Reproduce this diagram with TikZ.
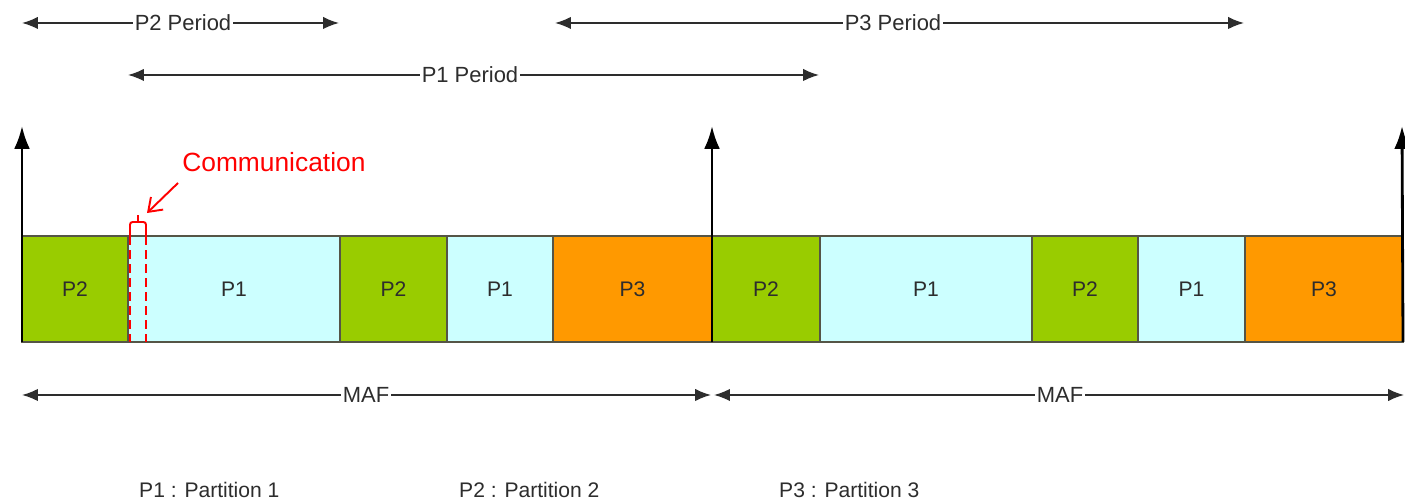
\documentclass[tikz,border=0pt]{standalone}
\usepackage{fontspec}
\setmainfont{Liberation Sans}
\usetikzlibrary{arrows.meta}
\definecolor{slotgreen}{RGB}{153,204,0}
\definecolor{slotcyan}{RGB}{204,255,255}
\definecolor{slotorange}{RGB}{255,153,0}
\definecolor{slotedge}{RGB}{85,85,70}
\definecolor{ink}{RGB}{45,45,45}
% one time slot of the schedule: name, left x, right x, fill, label
\newcommand\timeslot[5]{%
  \pgfmathsetlengthmacro\slotw{(#3-#2)*0.02cm}%
  \node[slotbox, fill=#4, minimum width=\slotw] (#1) at ({(#2+#3)/2},289) {#5};}
\begin{document}
\begin{tikzpicture}[x=0.02cm, y=-0.02cm,
  slotbox/.style={draw=slotedge, line width=0.7pt, minimum height=2.12cm,
    inner sep=0pt, outer sep=0pt, text=ink, font=\fontsize{12}{14}\selectfont},
  span/.style={draw=ink, line width=0.9pt,
    {Latex[length=9pt,width=7pt]}-{Latex[length=9pt,width=7pt]}},
  spanlabel/.style={fill=white, inner sep=1pt, text=ink,
    font=\fontsize{12.5}{15}\selectfont},
  axis/.style={draw=black, line width=1.6pt, -{Latex[length=13pt,width=9pt]}},
  legend/.style={anchor=west, text=ink, font=\fontsize{12}{14}\selectfont},
  comm/.style={draw=red, line width=1.1pt}]
\useasboundingbox (0,0) rectangle (1405,502);

% time slots of the two major frames
\timeslot{a1}{22}{128}{slotgreen}{P2}
\timeslot{a2}{128}{340}{slotcyan}{P1}
\timeslot{a3}{340}{447}{slotgreen}{P2}
\timeslot{a4}{447}{553}{slotcyan}{P1}
\timeslot{a5}{553}{712}{slotorange}{P3}
\timeslot{b1}{712}{820}{slotgreen}{P2}
\timeslot{b2}{820}{1032}{slotcyan}{P1}
\timeslot{b3}{1032}{1138}{slotgreen}{P2}
\timeslot{b4}{1138}{1245}{slotcyan}{P1}
\timeslot{b5}{1245}{1403}{slotorange}{P3}

% frame start axes
\coordinate (ax0) at (22,126);
\coordinate (ax1) at (712,126);
\coordinate (ax2) at (1402,126);
\draw[axis] (a1.south west) -- (ax0);
\draw[axis] (b1.south west) -- (ax1);
\draw[axis] (b5.south east) -- (ax2);

% partition periods
\coordinate (p2l) at (22,23);  \coordinate (p2r) at (339,23);
\coordinate (p3l) at (555,23); \coordinate (p3r) at (1244,23);
\coordinate (p1l) at (128,75); \coordinate (p1r) at (819,75);
\draw[span] (p2l) -- (p2r);
\draw[span] (p3l) -- (p3r);
\draw[span] (p1l) -- (p1r);
\node[spanlabel] (p2lab) at (183,23) {P2 Period};
\node[spanlabel] (p3lab) at (893,23) {P3 Period};
\node[spanlabel] (p1lab) at (470,75) {P1 Period};

% major frames
\coordinate (m1l) at (22,395);  \coordinate (m1r) at (711,395);
\coordinate (m2l) at (714,395); \coordinate (m2r) at (1404,395);
\draw[span] (m1l) -- (m1r);
\draw[span] (m2l) -- (m2r);
\node[spanlabel] (maf1) at (366,395) {MAF};
\node[spanlabel] (maf2) at (1060,395) {MAF};

% communication window at the start of P1
\draw[comm, rounded corners=1.5pt] (130,236) -- (130,222) -- (146,222) -- (146,236);
\draw[comm] (138,222) -- (138,215);
\draw[comm, dashed, dash pattern=on 5pt off 3pt] (130,236) -- (a2.south west -| 130,0);
\draw[comm, dashed, dash pattern=on 5pt off 3pt] (146,236) -- (a2.south west -| 146,0);
\node[anchor=west, text=red, font=\fontsize{15}{18}\selectfont, inner sep=0pt]
  (commlab) at (182,162) {Communication};
\coordinate (commtip) at (147,213);
\draw[comm, -{Straight Barb[length=7pt,width=10pt]}] (178,183) -- (commtip);

% legend
\node[legend] (l1) at (133,490) {P1 : Partition 1};
\node[legend] (l2) at (453,490) {P2 : Partition 2};
\node[legend] (l3) at (773,490) {P3 : Partition 3};
\end{tikzpicture}
\end{document}
